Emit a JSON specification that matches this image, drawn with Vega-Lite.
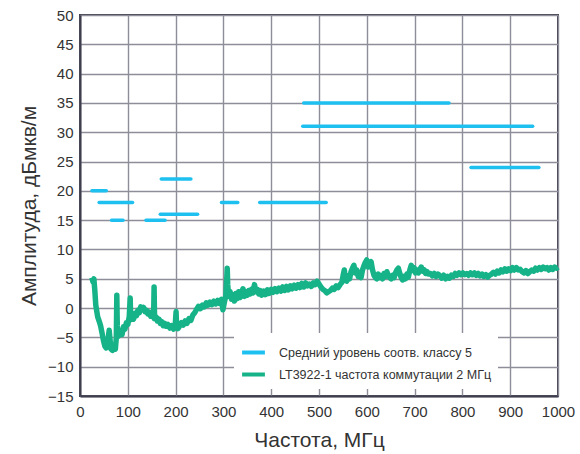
{
  "$schema": "https://vega.github.io/schema/vega-lite/v6.json",
  "width": 478,
  "height": 381,
  "autosize": {"type": "none"},
  "padding": {"left": 80, "top": 15, "right": 22, "bottom": 58},
  "background": "white",
  "config": {
    "font": "Liberation Sans",
    "view": {"stroke": "#3e3e4e", "strokeWidth": 2},
    "axis": {
      "domainColor": "#3e3e4e",
      "domainWidth": 2,
      "gridColor": "#8e8e9a",
      "gridWidth": 1.4,
      "gridOpacity": 1,
      "ticks": false,
      "labelOverlap": false,
      "labelFont": "Liberation Sans",
      "labelFontSize": 15,
      "labelColor": "#333333",
      "titleFont": "Liberation Sans",
      "titleFontSize": 21,
      "titleFontWeight": "normal",
      "titleColor": "#333333"
    },
    "legend": {
      "labelFont": "Liberation Sans",
      "labelFontSize": 12.5,
      "labelColor": "#333333",
      "labelLimit": 0
    }
  },
  "datasets": {
    "limits": [
      {"x1": 25, "x2": 55, "y": 20, "s": "Средний уровень соотв. классу 5"},
      {"x1": 40, "x2": 110, "y": 18, "s": "Средний уровень соотв. классу 5"},
      {"x1": 66, "x2": 90, "y": 15, "s": "Средний уровень соотв. классу 5"},
      {"x1": 138, "x2": 178, "y": 15, "s": "Средний уровень соотв. классу 5"},
      {"x1": 170, "x2": 232, "y": 22, "s": "Средний уровень соотв. классу 5"},
      {"x1": 168, "x2": 246, "y": 16, "s": "Средний уровень соотв. классу 5"},
      {"x1": 296, "x2": 330, "y": 18, "s": "Средний уровень соотв. классу 5"},
      {"x1": 376, "x2": 515, "y": 18, "s": "Средний уровень соотв. классу 5"},
      {"x1": 468, "x2": 772, "y": 35, "s": "Средний уровень соотв. классу 5"},
      {"x1": 466, "x2": 947, "y": 31, "s": "Средний уровень соотв. классу 5"},
      {"x1": 818, "x2": 960, "y": 24, "s": "Средний уровень соотв. классу 5"}
    ],
    "meas": [
      {"f":25,"v":5.2},{"f":27,"v":4.5},{"f":29,"v":5.0},{"f":31,"v":3.0},{"f":33,"v":0.5},{"f":35,"v":-0.5},{"f":37,"v":-1.5},{"f":40,"v":-2.2},{"f":43,"v":-3.0},{"f":46,"v":-4.2},{"f":49,"v":-5.5},{"f":52,"v":-6.5},{"f":55,"v":-6.8},{"f":58,"v":-6.0},{"f":60,"v":-4.5},{"f":61,"v":-3.8},{"f":63,"v":-5.5},{"f":65,"v":-7.0},{"f":68,"v":-7.2},{"f":71,"v":-6.6},{"f":74,"v":-7.0},{"f":76,"v":-5.0},{"f":77,"v":2.2},{"f":78,"v":-3.0},{"f":80,"v":-4.8},{"f":83,"v":-4.5},{"f":86,"v":-3.8},{"f":88,"v":-4.5},{"f":91,"v":-3.2},{"f":94,"v":-3.6},{"f":97,"v":-2.5},{"f":100,"v":-2.8},{"f":103,"v":-1.5},{"f":105,"v":1.7},{"f":106,"v":-2.0},{"f":109,"v":-1.4},{"f":112,"v":-1.9},{"f":115,"v":-0.9},{"f":118,"v":-1.3},{"f":121,"v":-0.4},{"f":124,"v":-0.8},{"f":127,"v":0.2},{"f":130,"v":-0.3},{"f":133,"v":0.1},{"f":136,"v":-0.6},{"f":139,"v":-0.4},{"f":142,"v":-1.0},{"f":145,"v":-0.7},{"f":148,"v":-1.4},{"f":151,"v":-1.1},{"f":154,"v":-1.6},{"f":155,"v":3.6},{"f":156,"v":-1.8},{"f":159,"v":-1.5},{"f":162,"v":-2.2},{"f":165,"v":-1.9},{"f":168,"v":-2.6},{"f":171,"v":-2.3},{"f":174,"v":-3.0},{"f":177,"v":-2.6},{"f":180,"v":-3.1},{"f":184,"v":-2.8},{"f":188,"v":-3.4},{"f":192,"v":-3.0},{"f":196,"v":-3.6},{"f":199,"v":-3.2},{"f":201,"v":-0.6},{"f":202,"v":-3.0},{"f":205,"v":-3.5},{"f":208,"v":-3.1},{"f":212,"v":-2.5},{"f":216,"v":-2.9},{"f":220,"v":-2.2},{"f":224,"v":-2.6},{"f":228,"v":-1.8},{"f":232,"v":-2.1},{"f":236,"v":-1.2},{"f":240,"v":-0.8},{"f":244,"v":-0.2},{"f":248,"v":0.3},{"f":252,"v":-0.1},{"f":256,"v":0.5},{"f":260,"v":0.2},{"f":264,"v":0.9},{"f":268,"v":0.5},{"f":272,"v":1.0},{"f":276,"v":0.6},{"f":280,"v":1.2},{"f":284,"v":0.7},{"f":288,"v":1.3},{"f":292,"v":0.8},{"f":296,"v":1.5},{"f":299,"v":-0.3},{"f":302,"v":1.0},{"f":305,"v":2.0},{"f":307,"v":5.0},{"f":308,"v":6.8},{"f":309,"v":4.0},{"f":311,"v":2.0},{"f":314,"v":2.8},{"f":317,"v":1.5},{"f":320,"v":2.3},{"f":323,"v":1.2},{"f":326,"v":2.5},{"f":329,"v":1.6},{"f":332,"v":2.8},{"f":335,"v":1.8},{"f":338,"v":2.6},{"f":341,"v":3.3},{"f":344,"v":2.0},{"f":347,"v":2.8},{"f":350,"v":2.2},{"f":353,"v":3.0},{"f":356,"v":2.4},{"f":359,"v":3.2},{"f":362,"v":2.6},{"f":365,"v":4.0},{"f":368,"v":2.8},{"f":371,"v":3.2},{"f":374,"v":2.4},{"f":377,"v":3.0},{"f":380,"v":2.2},{"f":384,"v":2.9},{"f":388,"v":2.3},{"f":392,"v":3.1},{"f":396,"v":2.5},{"f":400,"v":3.2},{"f":404,"v":2.7},{"f":408,"v":3.3},{"f":412,"v":2.8},{"f":416,"v":3.4},{"f":420,"v":2.9},{"f":424,"v":3.6},{"f":428,"v":3.0},{"f":432,"v":3.7},{"f":436,"v":3.1},{"f":440,"v":3.8},{"f":444,"v":3.3},{"f":448,"v":3.9},{"f":452,"v":3.4},{"f":456,"v":4.0},{"f":460,"v":3.5},{"f":464,"v":4.2},{"f":468,"v":3.6},{"f":472,"v":4.3},{"f":476,"v":3.8},{"f":480,"v":4.1},{"f":484,"v":3.7},{"f":488,"v":4.3},{"f":492,"v":4.0},{"f":496,"v":4.6},{"f":500,"v":4.1},{"f":504,"v":3.6},{"f":508,"v":3.2},{"f":512,"v":3.0},{"f":516,"v":2.6},{"f":520,"v":2.8},{"f":524,"v":3.0},{"f":528,"v":3.4},{"f":532,"v":3.2},{"f":536,"v":3.8},{"f":540,"v":3.5},{"f":544,"v":4.0},{"f":548,"v":4.4},{"f":551,"v":5.8},{"f":553,"v":6.5},{"f":555,"v":5.0},{"f":558,"v":4.6},{"f":561,"v":5.5},{"f":564,"v":5.0},{"f":567,"v":6.2},{"f":570,"v":6.8},{"f":573,"v":7.3},{"f":576,"v":6.0},{"f":579,"v":6.5},{"f":582,"v":5.4},{"f":585,"v":5.9},{"f":588,"v":5.2},{"f":591,"v":6.5},{"f":594,"v":7.2},{"f":597,"v":7.8},{"f":600,"v":8.2},{"f":603,"v":7.0},{"f":606,"v":7.6},{"f":609,"v":7.9},{"f":612,"v":6.5},{"f":615,"v":5.6},{"f":618,"v":5.2},{"f":621,"v":5.0},{"f":624,"v":5.8},{"f":627,"v":5.2},{"f":630,"v":5.5},{"f":633,"v":5.0},{"f":636,"v":5.9},{"f":639,"v":5.4},{"f":642,"v":6.2},{"f":645,"v":5.6},{"f":648,"v":5.2},{"f":651,"v":5.0},{"f":654,"v":5.6},{"f":657,"v":5.2},{"f":660,"v":6.0},{"f":663,"v":6.5},{"f":666,"v":6.8},{"f":669,"v":5.9},{"f":672,"v":5.2},{"f":675,"v":4.8},{"f":678,"v":5.4},{"f":681,"v":5.0},{"f":684,"v":5.8},{"f":687,"v":5.3},{"f":690,"v":6.5},{"f":693,"v":7.3},{"f":696,"v":6.4},{"f":699,"v":6.9},{"f":702,"v":6.0},{"f":705,"v":6.5},{"f":708,"v":6.0},{"f":711,"v":6.6},{"f":714,"v":7.0},{"f":717,"v":6.3},{"f":720,"v":6.5},{"f":723,"v":5.9},{"f":726,"v":6.2},{"f":729,"v":5.8},{"f":733,"v":5.9},{"f":737,"v":5.5},{"f":741,"v":5.9},{"f":745,"v":5.4},{"f":749,"v":5.8},{"f":753,"v":5.5},{"f":757,"v":5.1},{"f":761,"v":5.6},{"f":765,"v":5.0},{"f":769,"v":5.4},{"f":773,"v":5.1},{"f":777,"v":5.6},{"f":781,"v":5.4},{"f":785,"v":5.9},{"f":789,"v":5.6},{"f":793,"v":6.0},{"f":797,"v":5.7},{"f":801,"v":6.0},{"f":805,"v":5.7},{"f":809,"v":5.9},{"f":813,"v":5.6},{"f":817,"v":6.0},{"f":821,"v":5.7},{"f":825,"v":6.0},{"f":829,"v":5.6},{"f":833,"v":5.9},{"f":837,"v":5.5},{"f":841,"v":5.8},{"f":845,"v":5.4},{"f":849,"v":5.7},{"f":853,"v":5.3},{"f":857,"v":5.6},{"f":861,"v":5.8},{"f":865,"v":6.1},{"f":869,"v":5.8},{"f":873,"v":6.3},{"f":877,"v":6.0},{"f":881,"v":6.5},{"f":885,"v":6.2},{"f":889,"v":6.7},{"f":893,"v":6.3},{"f":897,"v":6.7},{"f":901,"v":6.4},{"f":905,"v":6.9},{"f":909,"v":6.5},{"f":913,"v":6.9},{"f":917,"v":6.5},{"f":921,"v":6.6},{"f":925,"v":6.2},{"f":929,"v":6.0},{"f":933,"v":6.4},{"f":937,"v":5.9},{"f":941,"v":6.2},{"f":945,"v":6.5},{"f":949,"v":6.3},{"f":953,"v":6.8},{"f":957,"v":6.5},{"f":961,"v":6.9},{"f":965,"v":6.6},{"f":969,"v":7.0},{"f":973,"v":6.7},{"f":977,"v":6.9},{"f":981,"v":6.5},{"f":985,"v":6.9},{"f":989,"v":6.6},{"f":993,"v":7.0},{"f":997,"v":6.8},{"f":1000,"v":7.0}
    ]
  },
  "layer": [
    {
      "data": {"name": "limits"},
      "mark": {"type": "rule", "strokeWidth": 3.5, "strokeCap": "round"},
      "encoding": {
        "x": {
          "field": "x1", "type": "quantitative",
          "scale": {"domain": [0, 1000], "nice": false},
          "axis": {"values": [0,100,200,300,400,500,600,700,800,900,1000], "tickCount": 20, "format": "d", "title": "Частота, МГц", "labelPadding": 8, "titlePadding": 10, "labelFlush": false}
        },
        "x2": {"field": "x2"},
        "y": {
          "field": "y", "type": "quantitative",
          "scale": {"domain": [-15, 50], "nice": false, "zero": false},
          "axis": {"values": [-15,-10,-5,0,5,10,15,20,25,30,35,40,45,50], "tickCount": 20, "title": "Амплитуда, дБмкв/м", "labelPadding": 7, "titlePadding": 8, "labelFlush": false}
        },
        "color": {
          "field": "s", "type": "nominal",
          "scale": {
            "domain": ["Средний уровень соотв. классу 5", "LT3922-1 частота коммутации 2 МГц"],
            "range": ["#1EC0F0", "#16B388"]
          },
          "legend": {
            "title": null,
            "orient": "none",
            "legendX": 154,
            "legendY": 318,
            "fillColor": "white",
            "padding": 6,
            "symbolType": "stroke",
            "symbolSize": 520,
            "symbolStrokeWidth": 4,
            "labelOffset": 12,
            "rowPadding": 0
          }
        }
      }
    },
    {
      "data": {"name": "meas"},
      "mark": {"type": "line", "strokeWidth": 5.5, "strokeJoin": "round"},
      "encoding": {
        "x": {"field": "f", "type": "quantitative"},
        "y": {"field": "v", "type": "quantitative"},
        "color": {"datum": "LT3922-1 частота коммутации 2 МГц"}
      }
    }
  ]
}
